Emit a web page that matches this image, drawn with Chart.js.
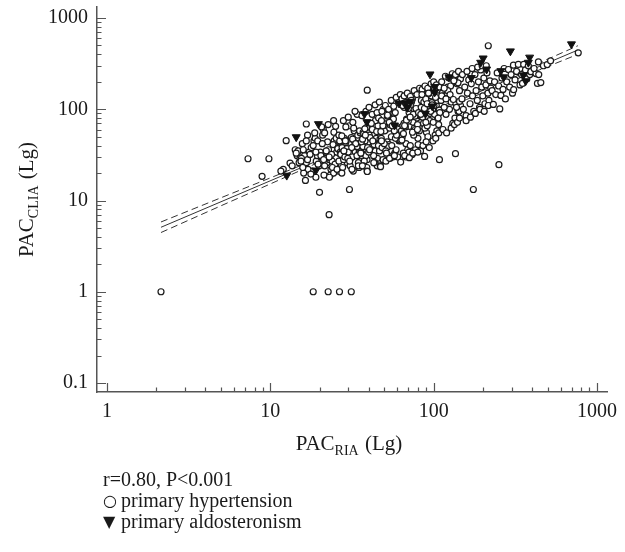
<!DOCTYPE html>
<html><head><meta charset="utf-8">
<script src="https://cdn.jsdelivr.net/npm/chart.js@4/dist/chart.umd.min.js"></script>
<style>html,body{margin:0;padding:0;background:#fff}canvas{display:block}</style>
</head><body>
<canvas id="c" width="625" height="552"></canvas>
<script>
// ---------------- data ----------------
const xTickLabels = [1, 10, 100, 1000];
const yTickLabels = [0.1, 1, 10, 100, 1000];
const minorSteps = [1, 2, 3, 4, 5, 6, 7, 8, 9];

// primary hypertension (open circles): [PAC_RIA, PAC_CLIA]
const hypertension = [
  [2.14,1],[18.3,1],[22.6,1],[26.5,1],[31.3,1],
  [7.3,28.7],[9.8,28.7],[8.9,18.4],[12.5,45.3],[13.2,25.7],[12.0,22],[16.6,69],
  [20.0,12.3],[30.5,13.2],[175,13.2],[22.9,7.0],[16.4,16.6],
  [136,32.6],[251,24.7],[216,497],[768,416],
  [14.2,36],[14.8,35],[14.6,31],[15.2,29],[15.0,26],[14.4,33],[13.6,24],[11.6,21],
  [17.3,34],[19.1,27],[15.7,42],[18.5,45],[16.2,31],[19.9,24],[17.8,38],[15.5,29],[18.0,21],[20.2,34],
  [16.6,26],[19.4,31],[17.0,22],[15.9,36],[18.8,48],[16.9,28],[19.6,25],[17.5,32],[16.0,20],[18.3,40],
  [15.4,27],[19.0,34],[19.0,18],[17.7,19.5],[18.7,55],[19.5,45],[16.9,52],[15.8,23],[16.6,45],
  [23.5,22],[20.6,30],[25.8,38],[22.2,26],[24.6,45],[21.3,19],[26.5,33],[23.0,28],[20.9,52],[25.1,24],
  [22.7,36],[24.2,41],[21.7,30],[26.1,21],[23.9,27],[21.1,60],[25.5,34],[22.4,44],[24.9,25],[20.4,31],
  [26.8,38],[23.3,19],[21.9,29],[25.3,48],[24.0,23],[22.0,35],[26.3,27],[20.8,42],[23.7,32],[24.5,56],
  [21.5,24],[25.9,37],[22.9,30],[26.6,45],[24.4,20],[21.2,28],[20.6,64],[21.5,55],[22.6,68],[24.4,75],
  [25.1,65],[26.3,52],[23.0,18],[25.6,22],[26.8,34],
  [29.6,26],[27.2,33],[33.8,40],[31.0,29],[28.4,48],[34.9,23],[30.2,36],[27.8,31],[32.6,58],[35.4,27],
  [28.9,43],[33.1,34],[30.8,24],[27.5,38],[34.3,52],[31.7,30],[29.1,45],[32.2,21],[35.0,35],[28.1,28],
  [30.5,66],[33.5,40],[27.0,32],[31.3,49],[34.6,26],[29.4,37],[32.9,43],[28.6,30],[35.5,55],[30.0,34],
  [27.7,23],[31.9,47],[34.0,39],[29.8,29],[32.4,62],[28.2,35],[33.3,42],[30.6,27],[27.4,51],[35.2,33],
  [31.5,38],[28.8,45],[33.9,31],[28.0,75],[30.0,82],[32.0,72],[34.0,88],[29.0,64],[33.0,95],[35.2,58],
  [27.4,20],[31.6,22],[34.6,24],
  [41.8,40],[36.3,33],[44.5,48],[39.1,28],[37.0,56],[46.2,37],[42.7,44],[38.4,31],[45.6,66],[36.9,39],
  [40.3,52],[43.9,35],[37.6,27],[46.9,47],[39.7,42],[42.1,60],[35.8,33],[44.0,75],[38.0,45],[41.0,38],
  [45.3,29],[37.3,54],[43.2,41],[40.8,49],[46.6,35],[38.8,63],[36.1,44],[42.9,31],[44.8,57],[39.4,38],
  [41.5,70],[36.7,47],[43.6,26],[38.2,52],[45.9,40],[40.0,34],[37.9,61],[42.4,45],[36.4,85],[38.5,95],
  [40.2,105],[42.0,88],[43.8,112],[45.0,92],[46.5,120],[37.2,24],[39.0,23],[39.2,162],[36.6,24],[39.2,21],
  [45.1,24],[47.1,24],[40.5,36],[43.0,26],[46.0,80],
  [55.1,50],[48.3,38],[60.6,62],[51.9,44],[57.8,33],[49.4,70],[62.1,55],[53.3,41],[47.8,48],[58.9,36],
  [54.6,82],[50.2,58],[61.4,45],[56.3,30],[48.9,66],[59.7,51],[52.6,39],[55.9,74],[47.5,57],[61.9,46],
  [50.9,35],[57.1,90],[53.8,62],[60.1,50],[49.8,42],[56.7,78],[62.6,55],[51.4,33],[54.1,68],[58.3,48],
  [49.1,100],[61.1,60],[55.4,40],[52.1,84],[59.3,52],[47.9,45],[53.5,72],[57.4,58],[48.2,95],[50.6,110],
  [53.0,100],[55.0,125],[57.0,108],[59.0,135],[61.0,118],[62.5,145],[49.0,28],[51.0,27],[54.2,29],[56.2,31],
  [60.2,30],[52.2,86],[58.2,92],[47.9,75],[55.8,66],
  [71.3,65],[64.2,50],[78.9,80],[67.7,42],[82.6,95],[63.5,58],[74.8,72],[80.1,48],[66.0,105],[76.2,62],
  [69.4,36],[81.4,85],[65.3,54],[73.1,120],[79.7,68],[63.0,45],[70.7,92],[77.3,60],[68.3,78],[82.9,38],
  [72.0,110],[65.9,70],[75.5,52],[80.9,88],[67.1,64],[74.1,130],[63.9,46],[78.3,98],[69.9,74],[81.8,58],
  [66.6,115],[76.8,84],[71.9,40],[64.8,66],[64.0,130],[66.0,140],[69.0,150],[72.0,138],[76.0,160],[79.0,145],
  [82.0,170],[65.2,33],[67.6,30],[70.6,34],[73.8,32],[77.4,36],[80.4,41],[83.1,35],[64.6,110],[67.0,118],
  [70.0,102],[73.0,125],[75.0,88],[78.0,102],[80.8,92],[68.2,76],[74.2,56],[71.8,82],[79.6,60],[66.4,66],
  [95.1,90],[86.7,70],[103.8,110],[90.3,56],[84.1,125],[99.6,80],[108.2,98],[88.4,62],[96.9,140],[105.5,76],
  [83.9,105],[92.2,50],[101.2,88],[87.1,120],[107.3,68],[93.6,150],[85.6,82],[98.4,100],[104.6,58],[89.5,130],
  [109.1,92],[94.5,75],[86.1,160],[100.4,110],[91.3,66],[106.9,140],[83.4,88],[97.5,118],[102.1,52],[88.9,100],
  [85.0,165],[88.5,180],[92.0,170],[96.5,190],[100.0,200],[104.0,185],[108.0,175],[86.0,40],[90.0,44],[94.0,38],
  [99.0,45],[103.0,48],[107.5,55],[84.8,145],[93.0,150],[101.0,165],[105.8,125],[87.8,102],[91.2,115],[97.8,112],
  [102.8,135],[95.8,95],[89.6,72],[106.6,80],[99.4,72],
  [128,120],[141,95],[113,150],[135,80],[122,175],[146,110],[117,135],[131,70],[139,190],[111,125],
  [125,100],[144,160],[119,88],[133,210],[115,140],[137,115],[127,180],[143,95],[121,150],[112,200],
  [118,230],[124,220],[130,245],[136,240],[142,260],[146,215],[114,60],[120,55],[128,62],[134,68],
  [140,72],[144,80],[116,105],[122,160],[126,145],[132,128],[138,105],[144,122],[112,140],[119,130],
  [141,195],[116,170],[133,205],
  [149,130],[152,100],[155,175],[158,85],[161,150],[164,210],[167,115],[170,190],[173,140],[176,95],
  [179,240],[182,160],[185,125],[188,200],[191,105],[194,270],[197,175],[200,140],[203,220],[206,115],
  [209,185],[212,250],[215,150],[218,125],[221,205],[224,170],[150,240],[160,260],[172,280],[186,290],
  [198,300],[210,300],[158,75],[168,82],[180,90],[192,100],[204,95],[216,110],
  [228,160],[232,113],[236,200],[240,145],[245,250],[250,180],[254,101],[258,142],[262,220],[266,165],
  [270,280],[275,130],[280,200],[287,273],[292,175],[298,240],[304,150],[308,304],[315,210],[322,260],
  [330,310],[338,185],[345,240],[350,192],[356,310],[365,270],[372,215],[380,300],[388,240],[394,258],
  [309,164],
  [423,246],[432,192],[438,330],[440,240],[453,196],[470,300],[496,309],[520,340],[412,280],
  [88,30.4],[108.5,28],[62.8,26.4],[47.3,23.5],[39.2,20.8],[53.7,29],[57.5,31],[66.5,31],[71,29.5],[74.5,33],[80,34]
];

// primary aldosteronism (filled triangles)
const aldosteronism = [
  [12.6,18.8],[14.4,49.6],[19.7,69],[19.0,21.4],[37.7,89],[39.0,72.6],[57.6,66.7],[61.4,116],[67.2,117],[72,121],
  [69,104],[89,89.6],[98,108],[95,242],[101.5,176],[101.5,154],[124,225],[170,221],[201,362],[194,325],
  [211,274],[258,263],[268,225],[295,433],[354,236],[366,204],[387,370],[380,325],[698,517]
];

// regression line and 95% confidence band
const fitX = [2.14, 764];
const fitY = [5.09, 446];
const bandX = [2.14, 5.01, 10, 19.95, 39.8, 79.4, 158.5, 316, 764];
const upperY = [5.82, 10.76, 17.7, 29.3, 48.8, 82.4, 141.9, 246, 497];
const lowerY = [4.46, 8.79, 15.2, 26.4, 45.5, 76.9, 127.6, 211, 400];

const noteText = 'r=0.80, P<0.001';
const legendItems = [['\u25CB', 'primary hypertension'], ['\u25BC', 'primary aldosteronism']];

// ---------------- chart ----------------
const FONT = '"Liberation Serif", "Times New Roman", serif';
const AXIS = '#555';
const INK = '#1a1a1a';
const toPts = arr => arr.map(p => ({x: p[0], y: p[1]}));
const zipPts = (xs, ys) => xs.map((x, i) => ({x, y: ys[i]}));

const decor = {
  id: 'decor',
  afterDraw(chart) {
    const {ctx, chartArea: ca, scales: {x: xs, y: ys}} = chart;
    ctx.save();
    // inward tick marks
    ctx.strokeStyle = AXIS; ctx.lineWidth = 1.2;
    ctx.beginPath();
    xTickLabels.forEach(d => minorSteps.forEach(m => {
      const v = d * m; if (v < xs.min || v > xs.max) return;
      const p = Math.round(xs.getPixelForValue(v)) + 0.5;
      const len = m === 1 ? 9 : 4.5;
      ctx.moveTo(p, ca.bottom); ctx.lineTo(p, ca.bottom - len);
    }));
    yTickLabels.forEach(d => minorSteps.forEach(m => {
      const v = d * m; if (v < ys.min || v > ys.max) return;
      const p = Math.round(ys.getPixelForValue(v)) + 0.5;
      const len = m === 1 ? 9 : 4.5;
      ctx.moveTo(ca.left, p); ctx.lineTo(ca.left + len, p);
    }));
    ctx.stroke();

    ctx.fillStyle = INK;
    const big = '21px ' + FONT, small = '14px ' + FONT;
    const titleParts = (main, sub, tail) => {
      ctx.font = big; const w1 = ctx.measureText(main).width; const w3 = ctx.measureText(tail).width;
      ctx.font = small; const w2 = ctx.measureText(sub).width;
      return {w1, w2, w3, total: w1 + w2 + 1 + w3};
    };
    const drawTitle = (main, sub, tail, cx, base) => {
      const m = titleParts(main, sub, tail);
      let x = cx - m.total / 2;
      ctx.textAlign = 'left'; ctx.textBaseline = 'alphabetic';
      ctx.font = big; ctx.fillText(main, x, base); x += m.w1;
      ctx.font = small; ctx.fillText(sub, x, base + 5); x += m.w2 + 1;
      ctx.font = big; ctx.fillText(tail, x, base);
    };
    // x title
    drawTitle('PAC', 'RIA', ' (Lg)', (ca.left + ca.right) / 2 - 3, 450);
    // y title (rotated)
    ctx.save();
    ctx.translate(33, (ca.top + ca.bottom) / 2);
    ctx.rotate(-Math.PI / 2);
    drawTitle('PAC', 'CLIA', ' (Lg)', 0, 0);
    ctx.restore();

    // note + legend
    ctx.font = '20px ' + FONT; ctx.textAlign = 'left'; ctx.textBaseline = 'alphabetic';
    ctx.fillText(noteText, 103, 486);
    legendItems.forEach((it, i) => {
      const base = 507 + i * 21;
      ctx.font = '16px "DejaVu Sans", sans-serif';
      ctx.fillText(it[0], 103, base - 1);
      ctx.font = '20px ' + FONT;
      ctx.fillText(it[1], 121, base);
    });
    ctx.restore();
  }
};

const lineDs = (label, data, dash) => ({
  label, data, showLine: true, pointRadius: 0, borderColor: '#333', borderWidth: 1,
  borderDash: dash, fill: false, order: 3, tension: 0
});

new Chart(document.getElementById('c'), {
  type: 'scatter',
  data: {
    datasets: [
      lineDs('fit', zipPts(fitX, fitY), []),
      lineDs('upper', zipPts(bandX, upperY), [7, 4]),
      lineDs('lower', zipPts(bandX, lowerY), [7, 4]),
      {label: 'primary hypertension', data: toPts(hypertension), pointStyle: 'circle', pointRadius: 3,
       borderWidth: 1.2, borderColor: '#1a1a1a', backgroundColor: '#fff', order: 2},
      {label: 'primary aldosteronism', data: toPts(aldosteronism), pointStyle: 'triangle', rotation: 180,
       pointRadius: 4.6, borderWidth: 1, borderColor: '#111', backgroundColor: '#111', order: 1}
    ]
  },
  options: {
    responsive: false, animation: false, events: [],
    layout: {padding: {left: 0, top: 7, right: 18, bottom: 0}},
    scales: {
      x: {
        type: 'logarithmic', min: 0.868, max: 1152,
        grid: {display: false, drawTicks: false},
        border: {display: true, color: AXIS, width: 1.5},
        afterBuildTicks: s => { s.ticks = xTickLabels.map(v => ({value: v})); },
        afterFit: s => { s.height = 160; s.paddingLeft = 0; s.paddingRight = 0; },
        ticks: {font: {family: FONT, size: 20}, color: INK, padding: 8, maxRotation: 0, autoSkip: false,
                callback: v => String(v)}
      },
      y: {
        type: 'logarithmic', min: 0.0797, max: 1321,
        grid: {display: false, drawTicks: false},
        border: {display: true, color: AXIS, width: 1.5},
        afterBuildTicks: s => { s.ticks = yTickLabels.map(v => ({value: v})); },
        afterFit: s => { s.width = 97; s.paddingTop = 0; s.paddingBottom = 0; },
        ticks: {font: {family: FONT, size: 20}, color: INK, padding: 9, autoSkip: false,
                callback: v => String(v)}
      }
    },
    plugins: {legend: {display: false}, tooltip: {enabled: false}}
  },
  plugins: [decor]
});
</script>
</body></html>
